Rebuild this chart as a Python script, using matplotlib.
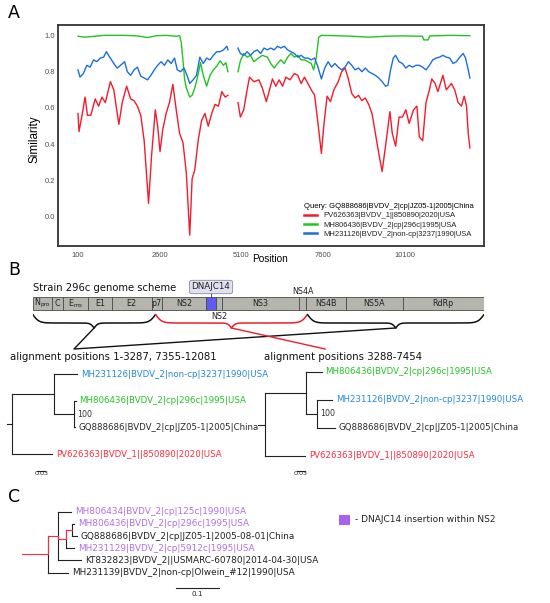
import numpy as np
import matplotlib
matplotlib.use("Agg")
import matplotlib.pyplot as plt
from matplotlib.patches import Rectangle
from matplotlib.lines import Line2D
from matplotlib.font_manager import FontProperties

plt.rcParams['font.family'] = ['DejaVu Sans']

# ======================= Panel A data (similarity plot) =======================
red_pos = [100, 131, 214, 317, 389, 493, 627, 730, 833, 937, 1092, 1195, 1350, 1453, 1588, 1711, 1815, 1918,
           2021, 2125, 2259, 2352, 2466, 2538, 2610, 2693, 2796, 2899, 3003, 3106, 3209, 3313, 3416, 3519,
           3592, 3674, 3777, 3881, 3984, 4087, 4191, 4294, 4397, 4501, 4604, 4687,
           4996, 5069, 5172, 5275, 5348, 5482, 5637, 5740, 5864, 5947, 6050, 6153, 6257, 6360, 6463, 6587,
           6722, 6825, 6928, 7031, 7135, 7238, 7341, 7444, 7548, 7620, 7723, 7826, 7930, 8064, 8168, 8271,
           8374, 8477, 8581, 8684, 8787, 8891, 8994, 9097, 9200, 9304, 9407, 9510, 9645, 9717, 9821, 9924,
           10027, 10131, 10234, 10368, 10471, 10544, 10647, 10750, 10853, 10926, 11029, 11112, 11267, 11370,
           11525, 11628, 11732, 11835, 11917, 11990, 12042, 12093]
red_sim = [0.57, 0.47, 0.55, 0.66, 0.56, 0.56, 0.65, 0.61, 0.66, 0.63, 0.745, 0.70, 0.51, 0.63, 0.72, 0.65, 0.64, 0.61,
           0.56, 0.42, 0.075, 0.34, 0.59, 0.50, 0.36, 0.48, 0.57, 0.63, 0.73, 0.59, 0.46, 0.41, 0.24, -0.10,
           0.21, 0.26, 0.42, 0.53, 0.57, 0.50, 0.57, 0.62, 0.61, 0.69, 0.66, 0.67,
           0.63, 0.55, 0.59, 0.70, 0.77, 0.745, 0.755, 0.71, 0.635, 0.69, 0.76, 0.72, 0.755, 0.72, 0.77, 0.755,
           0.79, 0.78, 0.735, 0.77, 0.735, 0.70, 0.67, 0.515, 0.35, 0.50, 0.665, 0.635, 0.70, 0.745, 0.80, 0.82,
           0.76, 0.68, 0.655, 0.67, 0.64, 0.655, 0.62, 0.57, 0.46, 0.35, 0.25, 0.39, 0.58, 0.46, 0.39, 0.55,
           0.55, 0.59, 0.515, 0.59, 0.61, 0.44, 0.42, 0.63, 0.70, 0.76, 0.735, 0.69, 0.78, 0.70,
           0.735, 0.70, 0.63, 0.61, 0.665, 0.61, 0.46, 0.38]

green_pos = [100, 300, 600, 900, 1200, 1500, 1800, 2000, 2230, 2500, 2800, 3100, 3209, 3261, 3313, 3364, 3416,
             3519, 3592, 3674, 3757, 3850, 3933, 4036, 4139, 4242, 4346, 4449, 4552, 4625, 4687,
             4996, 5069, 5172, 5275, 5379, 5482, 5585, 5740, 5895, 5998, 6102, 6205, 6308, 6411, 6515, 6618,
             6722, 6825, 6928, 7031, 7135, 7238, 7310, 7393, 7465, 7548, 8000, 8500, 9000, 9500, 10000,
             10640, 10680, 10820, 10860, 11500, 12093]
green_sim = [0.995, 0.99, 0.995, 1.0, 1.0, 1.0, 0.998, 0.995, 0.988, 0.998, 1.0, 0.995, 0.998, 0.96, 0.86, 0.755, 0.71,
             0.66, 0.67, 0.71, 0.77, 0.85, 0.78, 0.72, 0.78, 0.81, 0.83, 0.86, 0.835, 0.85, 0.80,
             0.80, 0.86, 0.90, 0.88, 0.89, 0.855, 0.87, 0.89, 0.88, 0.845, 0.82, 0.845, 0.865, 0.845, 0.88, 0.90,
             0.88, 0.89, 0.865, 0.865, 0.855, 0.845, 0.81, 0.88, 0.99, 1.0, 0.998, 0.995, 0.99, 0.995, 0.997,
             0.995, 0.975, 0.975, 0.997, 1.0, 0.998]

blue_pos = [100, 162, 265, 369, 472, 575, 678, 782, 885, 968, 1071, 1195, 1298, 1402, 1526, 1608, 1711, 1815,
            1918, 2021, 2125, 2228, 2331, 2435, 2538, 2641, 2745, 2848, 2951, 3054, 3137, 3240, 3344, 3447,
            3519, 3623, 3726, 3829, 3933, 4036, 4139, 4242, 4346, 4449, 4552, 4656, 4687,
            4996, 5069, 5172, 5275, 5379, 5482, 5585, 5689, 5792, 5895, 5998, 6102, 6205, 6308, 6411, 6515,
            6618, 6722, 6825, 6928, 7031, 7135, 7238, 7341, 7444, 7548, 7651, 7754, 7858, 7961, 8064, 8168,
            8271, 8374, 8477, 8581, 8684, 8787, 8891, 8994, 9097, 9200, 9304, 9407, 9510, 9583, 9666, 9748,
            9821, 9924, 10027, 10131, 10234, 10337, 10440, 10544, 10647, 10750, 10853, 10957, 11060, 11163,
            11267, 11370, 11473, 11577, 11680, 11783, 11887, 11959, 12042, 12093]
blue_sim = [0.81, 0.77, 0.79, 0.835, 0.825, 0.865, 0.855, 0.875, 0.88, 0.91, 0.88, 0.845, 0.82, 0.835, 0.855, 0.80, 0.78, 0.81,
            0.825, 0.775, 0.765, 0.755, 0.78, 0.81, 0.835, 0.855, 0.835, 0.865, 0.845, 0.875, 0.81, 0.80, 0.82, 0.775,
            0.735, 0.755, 0.78, 0.88, 0.845, 0.875, 0.865, 0.89, 0.91, 0.91, 0.92, 0.94, 0.92,
            0.93, 0.90, 0.89, 0.91, 0.89, 0.91, 0.92, 0.90, 0.93, 0.92, 0.93, 0.92, 0.94, 0.93, 0.94, 0.92,
            0.91, 0.90, 0.88, 0.89, 0.875, 0.875, 0.865, 0.875, 0.825, 0.76, 0.82, 0.855, 0.825, 0.845, 0.825, 0.81,
            0.825, 0.855, 0.835, 0.81, 0.82, 0.80, 0.82, 0.80, 0.79, 0.78, 0.765, 0.745, 0.72, 0.725, 0.81, 0.875,
            0.89, 0.855, 0.845, 0.82, 0.835, 0.825, 0.835, 0.835, 0.825, 0.81, 0.835, 0.865, 0.875, 0.88,
            0.89, 0.88, 0.875, 0.845, 0.855, 0.88, 0.90, 0.875, 0.81, 0.765]

gap_at = 4800   # alignment gap (no values plotted here)

query_label = "Query: GQ888686|BVDV_2|cp|JZ05-1|2005|China"
series_labels = ["PV626363|BVDV_1||850890|2020|USA",
                 "MH806436|BVDV_2|cp|296c|1995|USA",
                 "MH231126|BVDV_2|non-cp|3237|1990|USA"]
series_colors = ["#f51a2c", "#22c422", "#1a70d8"]
x_ticks = [100, 2600, 5100, 7600, 10100]
y_ticks = [0.0, 0.2, 0.4, 0.6, 0.8, 1.0]

# ======================= Panel B data (genome scheme + trees) =======================
seg_labels = ["N$_\\mathrm{pro}$", "C", "E$_\\mathrm{rns}$", "E1", "E2", "p7", "NS2", "DNAJC14", "NS2",
              "NS3", "NS4A", "NS4B", "NS5A", "RdRp"]
seg_label_mode = ["in", "in", "in", "in", "in", "in", "in", "box", "below", "in", "above", "in", "in", "in"]
seg_ends = [509, 803, 1488, 2115, 3186, 3453, 4639, 4907, 5059, 7137, 7316, 8387, 9905, 12081]
genome_len = 12081
brace_ranges = [(1, 3287), (3288, 7354), (7355, 12081)]
brace_colors = ["#111111", "#f01d2b", "#111111"]
scheme_title = "Strain 296c genome scheme"
aln_texts = ["alignment positions 1-3287, 7355-12081", "alignment positions 3288-7454"]

tree_B_left = {"bl": 0.019, "children": [
    {"bl": 0.160, "children": [
        {"name": "MH231126|BVDV_2|non-cp|3237|1990|USA", "bl": 0.086},
        {"bl": 0.075, "support": "100", "children": [
            {"name": "MH806436|BVDV_2|cp|296c|1995|USA", "bl": 0.006},
            {"name": "GQ888686|BVDV_2|cp|JZ05-1|2005|China", "bl": 0.004}]}]},
    {"name": "PV626363|BVDV_1||850890|2020|USA", "bl": 0.151}]}

tree_B_right = {"bl": 0.026, "children": [
    {"bl": 0.155, "children": [
        {"name": "MH806436|BVDV_2|cp|296c|1995|USA", "bl": 0.059},
        {"bl": 0.040, "support": "100", "children": [
            {"name": "MH231126|BVDV_2|non-cp|3237|1990|USA", "bl": 0.060},
            {"name": "GQ888686|BVDV_2|cp|JZ05-1|2005|China", "bl": 0.069}]}]},
    {"name": "PV626363|BVDV_1||850890|2020|USA", "bl": 0.151}]}

tree_B_colors = {"MH231126": "#2189dc", "MH806436": "#22c422", "PV626363": "#ff2b40", "GQ888686": "#2a2a2a"}

# ======================= Panel C data =======================
tree_C = {"bl": 0.060, "hl": True, "children": [
    {"bl": 0.022, "hl": True, "children": [
        {"name": "MH806434|BVDV_2|cp|125c|1990|USA", "bl": 0.031},
        {"bl": 0.0195, "hl": True, "children": [
            {"bl": 0.0126, "hl": True, "children": [
                {"name": "MH806436|BVDV_2|cp|296c|1995|USA", "bl": 0.0046},
                {"name": "GQ888686|BVDV_2|cp|JZ05-1|2005-08-01|China", "bl": 0.0115}]},
            {"name": "MH231129|BVDV_2|cp|5912c|1995|USA", "bl": 0.0172}]},
        {"name": "KT832823|BVDV_2||USMARC-60780|2014-04-30|USA", "bl": 0.054}]},
    {"name": "MH231139|BVDV_2|non-cp|Olwein_#12|1990|USA", "bl": 0.046}]}
tree_C_colors = {"MH806434": "#b36ee6", "MH806436": "#b36ee6", "MH231129": "#b36ee6"}
legend_C_text = "- DNAJC14 insertion within NS2"
legend_C_color = "#a862ee"

# ======================= Figure =======================
W, H = 550, 603
fig = plt.figure(figsize=(W / 100, H / 100), dpi=100)
fig.patch.set_facecolor("white")


def px_axes(x0, y0, x1, y1):
    ax = fig.add_axes([x0 / W, 1 - y1 / H, (x1 - x0) / W, (y1 - y0) / H])
    return ax


def ftext(x, y, s, **kw):
    return fig.text(x / W, 1 - y / H, s, **kw)


ARIAL = "Liberation Sans"

# ---------------- Panel A ----------------
axA = px_axes(58, 25, 484, 246)
for pos, sim, col, lab in zip([red_pos, green_pos, blue_pos], [red_sim, green_sim, blue_sim],
                              series_colors, series_labels):
    p = np.asarray(pos, float)
    s = np.asarray(sim, float)
    gap = np.where((p[:-1] < gap_at) & (p[1:] > gap_at))[0] + 1
    p = np.insert(p, gap, np.nan)
    s = np.insert(s, gap, np.nan)
    axA.plot(p, s, color=col, lw=1.0, solid_joinstyle="round")
axA.set_xlim(-512, 12524)
axA.set_ylim(-0.16, 1.057)
axA.set_xticks(x_ticks)
axA.set_xticklabels([str(t) for t in x_ticks])
axA.set_yticks(y_ticks)
axA.set_yticklabels(["%.1f" % t for t in y_ticks])
axA.tick_params(length=0, labelsize=5.4, labelcolor="#4d4d4d")
axA.tick_params(axis="x", pad=4.5)
axA.tick_params(axis="y", pad=2.0)
for lbl in axA.get_xticklabels() + axA.get_yticklabels():
    lbl.set_fontfamily(ARIAL)
for sp in axA.spines.values():
    sp.set_linewidth(1.3)
    sp.set_color("#333333")

handles = [Line2D([], [], color=c, lw=1.8) for c in series_colors]
leg = axA.legend(handles, series_labels, title=query_label, loc="lower right",
                 bbox_to_anchor=(0.985, 0.02), frameon=False,
                 prop=FontProperties(family=ARIAL, size=5.5),
                 title_fontproperties=FontProperties(family=ARIAL, size=5.5),
                 handlelength=1.75, handletextpad=0.8, labelspacing=0.25, borderpad=0.0,
                 alignment="left")
for t in leg.get_texts():
    t.set_color("#222222")

ftext(35, 139, "Similarity", rotation=90, ha="center", va="center", fontsize=8.5, family=ARIAL)
ftext(270, 259, "Position", ha="center", va="center", fontsize=7.2, family=ARIAL)

# panel letters
ftext(8, 13, "A", fontsize=12.5, ha="left", va="center")
ftext(8, 270, "B", fontsize=12.5, ha="left", va="center")
ftext(8, 497, "C", fontsize=12.5, ha="left", va="center")

# ---------------- Panel B: genome scheme ----------------
axS = px_axes(32.7, 268, 484, 362)
axS.set_xlim(0, genome_len)
axS.set_ylim(362, 268)
axS.axis("off")
BAR_TOP, BAR_H = 297, 13
starts = [0] + seg_ends[:-1]
for lab, mode, x0, x1 in zip(seg_labels, seg_label_mode, starts, seg_ends):
    fc = "#5b5cf2" if mode == "box" else "#b5b5ad"
    axS.add_patch(Rectangle((x0, BAR_TOP), x1 - x0, BAR_H, fc=fc, ec="#4a4a4a", lw=0.6))
    cx = (x0 + x1) / 2
    if mode == "in":
        axS.text(cx, BAR_TOP + BAR_H / 2, lab, ha="center", va="center", fontsize=5.8, color="#222222")
    elif mode == "above":
        axS.text(cx, BAR_TOP - 5, lab, ha="center", va="center", fontsize=5.8, color="#222222")
    elif mode == "below":
        axS.text(cx, BAR_TOP + BAR_H + 7, lab, ha="center", va="center", fontsize=5.8, color="#222222")
    elif mode == "box":
        axS.text(cx, 287, lab, ha="center", va="center", fontsize=6.3, color="#222222",
                 bbox=dict(boxstyle="round,pad=0.25", fc="#dfe1ef", ec="#8a8da2", lw=0.6))
        axS.plot([cx, cx], [293, BAR_TOP], color="#333333", lw=0.6)


def brace(ax, xa, xb, y_end, y_flat, y_tip, color, b_end=0.012, b_tip=0.02):
    xm = (xa + xb) / 2
    xh = np.linspace(xa, xm, 300)
    sig1 = 1 / (1 + np.exp(-b_end * (xh - xa))) - 0.5
    sig2 = 1 / (1 + np.exp(-b_tip * (xh - xm)))
    yh = y_end + 2 * (y_flat - y_end) * sig1 + 2 * (y_tip - y_flat) * sig2
    xs = np.concatenate([xh, (2 * xm - xh)[::-1]])
    ys = np.concatenate([yh, yh[::-1]])
    ax.plot(xs, ys, color=color, lw=1.1, solid_capstyle="round")
    return xm


tips = [brace(axS, a, b, 314.5, 323, 328, c) for (a, b), c in zip(brace_ranges, brace_colors)]
join_left = 1106
join_right = 7827
axS.plot([tips[0], join_left, tips[2]], [328, 349, 328], color="#111111", lw=1.0)
axS.plot([tips[1], join_right], [328, 349], color="#f01d2b", lw=1.0)

ftext(32.7, 288, scheme_title, ha="left", va="center", fontsize=7.2, color="#111111")
ftext(10, 357, aln_texts[0], ha="left", va="center", fontsize=7.3, color="#111111")
ftext(264, 357, aln_texts[1], ha="left", va="center", fontsize=7.3, color="#111111")

# ---------------- Trees ----------------
TREE_C = "#222222"
HL_C = "#ff2a3c"


def draw_tree(ax, node, x0, state, colors, fs, lw):
    x1 = x0 + node["bl"]
    kids = node.get("children")
    if kids:
        ys = [draw_tree(ax, k, x1, state, colors, fs, lw) for k in kids]
        y = (ys[0] + ys[-1]) / 2
        ax.plot([x1, x1], [ys[0], ys[-1]], color=TREE_C, lw=lw, clip_on=False)
        for k, yk in zip(kids, ys):
            if k.get("hl"):
                ax.plot([x1, x1], [y, yk], color=HL_C, lw=lw, clip_on=False)
        if node.get("support"):
            ax.annotate(node["support"], (x1, y), xytext=(2.5, 0), textcoords="offset points",
                        ha="left", va="center", fontsize=fs * 0.92, color="#333333")
    else:
        y = state[0]
        state[0] += 1
        col = colors.get(node["name"].split("|")[0], "#222222")
        ax.annotate(node["name"], (x1, y), xytext=(2.8, 0), textcoords="offset points",
                    ha="left", va="center", fontsize=fs, color=col)
    ax.plot([x0, x1], [y, y], color=HL_C if node.get("hl") else TREE_C, lw=lw, clip_on=False)
    return y


def tree_axes(x0px, x1px, y0px, y1px, root_px, leaf0_px, step_px, px_per_unit):
    ax = px_axes(x0px, y0px, x1px, y1px)
    ax.set_xlim((x0px - root_px) / px_per_unit, (x1px - root_px) / px_per_unit)
    ax.set_ylim((y1px - leaf0_px) / step_px, (y0px - leaf0_px) / step_px)
    ax.axis("off")
    return ax


def scale_bar(ax, x, y, length, text, fs, gap):
    ax.plot([x, x + length], [y, y], color="#222222", lw=0.8)
    ax.annotate(text, (x + length / 2, y), xytext=(0, -gap), textcoords="offset points",
                ha="center", va="top", fontsize=fs, color="#222222")


PXU_B = 265
axL = tree_axes(0, 272, 362, 482, 6.7, 374, 26.7, PXU_B)
draw_tree(axL, tree_B_left, 0.0, [0], tree_B_colors, 6.2, 0.8)
scale_bar(axL, (37.3 - 6.7) / PXU_B, (470.5 - 374) / 26.7, 0.03, "0.03", 4.6, 0.3)

axR = tree_axes(255, 550, 362, 482, 258, 372, 28, PXU_B)
draw_tree(axR, tree_B_right, 0.0, [0], tree_B_colors, 6.2, 0.8)
scale_bar(axR, (297 - 258) / PXU_B, (470.5 - 372) / 28, 0.03, "0.03", 4.6, 0.3)

PXU_C = 436
axC = tree_axes(10, 550, 500, 603, 22, 511.7, 12.16, PXU_C)
draw_tree(axC, tree_C, 0.0, [0], tree_C_colors, 6.4, 0.8)
scale_bar(axC, (175.7 - 22) / PXU_C, (587.7 - 511.7) / 12.16, 0.1, "0.1", 5.2, 2.5)

fig.patches.append(Rectangle((339 / W, 1 - 525 / H), 11 / W, 10 / H, transform=fig.transFigure,
                             fc=legend_C_color, ec="none"))
ftext(355, 520, legend_C_text, ha="left", va="center", fontsize=6.45, color="#222222")

fig.savefig("out.png", dpi=100, facecolor="white")
